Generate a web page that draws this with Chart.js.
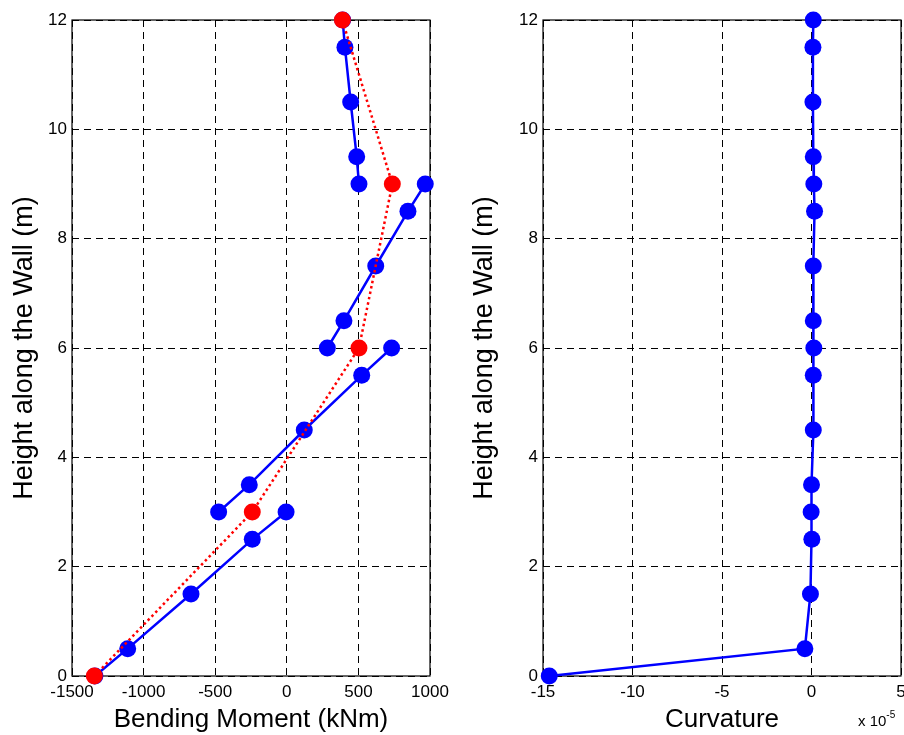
<!DOCTYPE html>
<html>
<head>
<meta charset="utf-8">
<script src="https://cdn.jsdelivr.net/npm/chart.js@4/dist/chart.umd.min.js"></script>
<style>
  html, body { margin: 0; padding: 0; background: #fff; overflow: hidden; }
  body { width: 904px; height: 735px; position: relative; }
  .panel { position: absolute; top: 0; height: 735px; }
  #momentBox { left: 0; width: 460px; }
  #curvBox { left: 460px; width: 454px; }
  #expLabel {
    position: absolute; left: 858px; top: 711px;
    font: 15px "Liberation Sans", Arial, sans-serif; color: #000; white-space: nowrap;
  }
  #expLabel sup { font-size: 10px; position: relative; top: -2px; }
</style>
</head>
<body>
<div class="panel" id="momentBox"><canvas id="moment"></canvas></div>
<div class="panel" id="curvBox"><canvas id="curv"></canvas></div>
<div id="expLabel">x 10<sup>-5</sup></div>
<script>
// Wall response: bending moment and curvature along the height

// heights (m) for each blue moment segment, top to bottom
const segAHeights = [12, 11.5, 10.5, 9.5, 9];
const segAMoment = [390, 406, 446, 488, 504];
const segBHeights = [9, 8.5, 7.5, 6.5, 6];
const segBMoment = [967, 846, 621, 399, 283];
const segCHeights = [6, 5.5, 4.5, 3.5, 3];
const segCMoment = [732, 523, 122, -262, -476];
const segDHeights = [3, 2.5, 1.5, 0.5, 0];
const segDMoment = [-5, -241, -669, -1111, -1340];

// red dotted reference moments
const refHeights = [0, 3, 6, 9, 12];
const refMoment = [-1344, -241, 504, 737, 388];

// curvature (x 1e-5) along the height
const curvHeights = [12, 11.5, 10.5, 9.5, 9, 8.5, 7.5, 6.5, 6, 5.5, 4.5, 3.5, 3, 2.5, 1.5, 0.5, 0];
const curvValues = [0.1, 0.08, 0.08, 0.1, 0.13, 0.17, 0.1, 0.1, 0.13, 0.1, 0.1, 0.0, -0.02, 0.02, -0.06, -0.37, -14.65];

const momentTicks = [-1500, -1000, -500, 0, 500, 1000];
const curvTicks = [-15, -10, -5, 0, 5];
const heightTicks = [0, 2, 4, 6, 8, 10, 12];

const FONT = '"Liberation Sans", Arial, sans-serif';
const BLUE = '#0000ff';
const RED = '#ff0000';

function pts(xs, ys) {
  return xs.map((x, i) => ({ x: x, y: ys[i] }));
}

function blueSeries(data) {
  return {
    data: data,
    showLine: true,
    borderColor: BLUE,
    backgroundColor: BLUE,
    borderWidth: 2.5,
    pointRadius: 8.5,
    pointBorderWidth: 0,
    pointHoverRadius: 8.5,
    clip: false,
    order: 1
  };
}

// solid frame around the plot area, under the markers
const frame = {
  id: 'frame',
  beforeDatasetsDraw(chart) {
    const a = chart.chartArea;
    const ctx = chart.ctx;
    ctx.save();
    ctx.strokeStyle = '#000';
    ctx.lineWidth = 1.2;
    ctx.setLineDash([]);
    ctx.strokeRect(a.left, a.top, a.right - a.left, a.bottom - a.top);
    ctx.restore();
  }
};

function axes(xTicks, xTitle, yWidth) {
  const grid = { color: '#000', lineWidth: 1, drawTicks: false };
  const tickFont = { family: FONT, size: 17 };
  return {
    x: {
      type: 'linear',
      min: xTicks[0],
      max: xTicks[xTicks.length - 1],
      afterBuildTicks: s => { s.ticks = xTicks.map(v => ({ value: v })); },
      afterFit: s => { s.height = 59; },
      grid: grid,
      border: { display: false, dash: [7, 5] },
      ticks: { color: '#000', font: tickFont, padding: 6, maxRotation: 0, callback: v => String(v) },
      title: { display: true, text: xTitle, color: '#000', font: { family: FONT, size: 26 }, padding: { top: 0, bottom: 0 } }
    },
    y: {
      type: 'linear',
      min: 0,
      max: 12,
      afterBuildTicks: s => { s.ticks = heightTicks.map(v => ({ value: v })); },
      afterFit: s => { s.width = yWidth; },
      grid: grid,
      border: { display: false, dash: [7, 5] },
      ticks: { color: '#000', font: tickFont, padding: 5, callback: v => String(v) },
      title: { display: true, text: 'Height along the Wall (m)', color: '#000', font: { family: FONT, size: 27 }, padding: { top: 8, bottom: 0 } }
    }
  };
}

function baseOptions(scales, pad) {
  return {
    responsive: true,
    maintainAspectRatio: false,
    animation: false,
    layout: { padding: pad },
    plugins: { legend: { display: false }, tooltip: { enabled: false } },
    scales: scales
  };
}

new Chart(document.getElementById('moment'), {
  type: 'scatter',
  data: {
    datasets: [
      {
        data: pts(refMoment, refHeights),
        showLine: true,
        borderColor: RED,
        backgroundColor: RED,
        borderWidth: 2.5,
        borderDash: [2.5, 3],
        pointRadius: 8.5,
        pointBorderWidth: 0,
        pointHoverRadius: 8.5,
        clip: false,
        order: 0
      },
      blueSeries(pts(segAMoment, segAHeights)),
      blueSeries(pts(segBMoment, segBHeights)),
      blueSeries(pts(segCMoment, segCHeights)),
      blueSeries(pts(segDMoment, segDHeights))
    ]
  },
  options: baseOptions(axes(momentTicks, 'Bending Moment (kNm)', 72), { left: 0, right: 30, top: 20, bottom: 0 }),
  plugins: [frame]
});

new Chart(document.getElementById('curv'), {
  type: 'scatter',
  data: {
    datasets: [blueSeries(pts(curvValues, curvHeights))]
  },
  options: baseOptions(axes(curvTicks, 'Curvature', 83), { left: 0, right: 13, top: 20, bottom: 0 }),
  plugins: [frame]
});
</script>
</body>
</html>
